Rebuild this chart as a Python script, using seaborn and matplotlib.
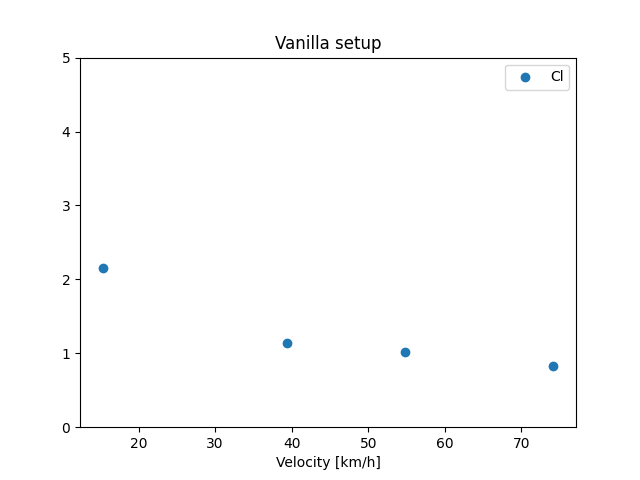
import matplotlib
matplotlib.use('Agg')
import matplotlib.pyplot as plt
import seaborn as sns
import pandas as pd

# Data
velocity = [15.3, 39.4, 54.8, 74.2]
cl = [2.15, 1.14, 1.02, 0.83]

df = pd.DataFrame({'Velocity [km/h]': velocity, 'Cl': cl})

plt.style.use('default')
fig, ax = plt.subplots(figsize=(6.4, 4.8), dpi=100)
sns.scatterplot(data=df, x='Velocity [km/h]', y='Cl', ax=ax,
                color='#1f77b4', s=36, edgecolor='#1f77b4', linewidth=1,
                label='Cl')
ax.set_ylim(0, 5)
ax.set_ylabel('')
ax.set_xlabel('Velocity [km/h]')
ax.set_title('Vanilla setup')
ax.legend(loc='upper right')
fig.savefig('out.png', dpi=100)
